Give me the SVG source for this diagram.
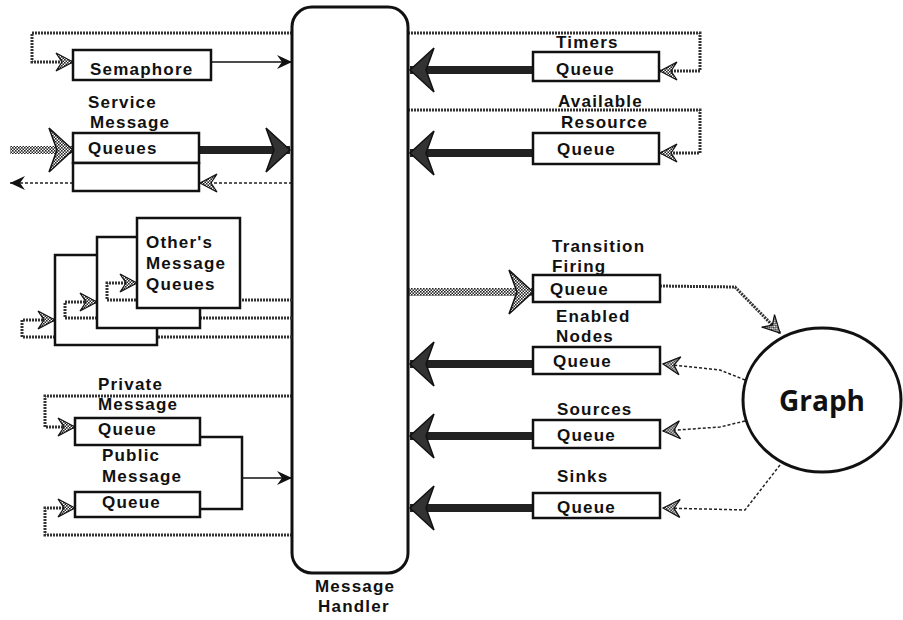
<svg xmlns="http://www.w3.org/2000/svg" width="903" height="620" viewBox="0 0 903 620">
<defs>
<pattern id="chk" width="3" height="3" patternUnits="userSpaceOnUse">
<rect width="3" height="3" fill="#fff"/><rect width="1.6" height="1.6" fill="#222"/><rect x="1.5" y="1.5" width="1.6" height="1.6" fill="#222"/>
</pattern>
<marker id="big" markerUnits="userSpaceOnUse" markerWidth="30" markerHeight="50" viewBox="-27 -25 30 50" refX="0" refY="0" orient="auto">
<path d="M0,0 L-24,-22 L-16,0 L-24,22 Z" fill="#333" stroke="#111" stroke-width="1.5"/>
</marker>
<marker id="bigh" markerUnits="userSpaceOnUse" markerWidth="30" markerHeight="50" viewBox="-27 -25 30 50" refX="0" refY="0" orient="auto">
<path d="M0,0 L-24,-22 L-16,0 L-24,22 Z" fill="url(#chk)" stroke="#111" stroke-width="1.5"/>
</marker>
<marker id="hat" markerUnits="userSpaceOnUse" markerWidth="22" markerHeight="24" viewBox="-20 -12 22 24" refX="0" refY="0" orient="auto">
<path d="M0,0 L-17,-9 L-11,0 L-17,9 Z" fill="url(#chk)" stroke="#111" stroke-width="1.2"/>
</marker>
<marker id="thin" markerUnits="userSpaceOnUse" markerWidth="20" markerHeight="20" viewBox="-18 -10 20 20" refX="0" refY="0" orient="auto">
<path d="M0,0 L-15,-7 L-10,0 L-15,7 Z" fill="#111"/>
</marker>
</defs>
<style>
.box{fill:#fff;stroke:#111;stroke-width:2.5}
.t{font-family:"Liberation Sans",Arial,sans-serif;font-weight:700;font-size:17px;letter-spacing:1.2px;fill:#111}
.hl{fill:none;stroke:#333;stroke-width:3;stroke-dasharray:2 1}
.dl{fill:none;stroke:#222;stroke-width:1.5;stroke-dasharray:3 2}
.sl{fill:none;stroke:#111;stroke-width:1.5}
.bk{fill:none;stroke:#111;stroke-width:2.5}
.th{fill:none;stroke:#222;stroke-width:8}
.thh{fill:none;stroke:url(#chk);stroke-width:8}
</style>

<g id="connectors">
<path class="hl" d="M292,33 H32 V62 H73" marker-end="url(#hat)"/>
<path class="sl" d="M212,62 H292" marker-end="url(#thin)"/>
<path class="thh" d="M10,150 H73" marker-end="url(#bigh)"/>
<path class="th" d="M199,150 H290" marker-end="url(#big)"/>
<path class="dl" d="M292,183 H200" marker-end="url(#hat)"/>
<path class="dl" d="M73,183 H10" marker-end="url(#thin)"/>
<path class="hl" d="M292,396 H45 V427 H75" marker-end="url(#hat)"/>
<path class="hl" d="M292,535 H45 V508 H75" marker-end="url(#hat)"/>
<path class="bk" d="M200,437 H242 V509 H200"/>
<path class="sl" d="M242,478 H292" marker-end="url(#thin)"/>
<path class="hl" d="M408,33 H700 V71 H660" marker-end="url(#hat)"/>
<path class="th" d="M533,70 H410" marker-end="url(#big)"/>
<path class="hl" d="M408,110 H700 V153 H660" marker-end="url(#hat)"/>
<path class="th" d="M533,153 H410" marker-end="url(#big)"/>
<path class="thh" d="M408,292 H533" marker-end="url(#bigh)"/>
<path class="hl" d="M660,286 L735,287 L780,333" marker-end="url(#hat)"/>
<path class="th" d="M533,364 H410" marker-end="url(#big)"/>
<path class="dl" d="M745,380 L720,370 L663,364" marker-end="url(#hat)"/>
<path class="th" d="M533,436 H410" marker-end="url(#big)"/>
<path class="dl" d="M745,421 L720,427 L663,431" marker-end="url(#hat)"/>
<path class="th" d="M533,508 H410" marker-end="url(#big)"/>
<path class="dl" d="M780,465 L745,510 L663,508" marker-end="url(#hat)"/>
</g>

<g id="handler">
<rect x="292" y="7" width="116" height="566" rx="20" fill="#fff" stroke="#111" stroke-width="3"/>
<text class="t" x="315" y="592">Message</text>
<text class="t" x="318" y="612">Handler</text>
</g>

<g id="semaphore">
<rect class="box" x="73" y="50" width="138" height="30"/>
<text class="t" x="90" y="75">Semaphore</text>
</g>

<g id="service">
<text class="t" x="88" y="108">Service</text>
<text class="t" x="90" y="128">Message</text>
<rect class="box" x="73" y="133" width="126" height="30"/>
<rect class="box" x="73" y="163" width="126" height="28"/>
<text class="t" x="88" y="154">Queues</text>
</g>

<g id="others">
<path class="hl" d="M292,337 H22 V320 H55" marker-end="url(#hat)"/>
<rect class="box" x="55" y="255" width="102" height="90"/>
<path class="hl" d="M292,318 H65 V302 H97" marker-end="url(#hat)"/>
<rect class="box" x="97" y="237" width="103" height="91"/>
<path class="hl" d="M292,300 H107 V283 H137" marker-end="url(#hat)"/>
<rect class="box" x="137" y="218" width="103" height="90"/>
<text class="t" x="146" y="248">Other's</text>
<text class="t" x="146" y="269">Message</text>
<text class="t" x="146" y="290">Queues</text>
</g>

<g id="private">
<text class="t" x="98" y="390">Private</text>
<text class="t" x="98" y="410">Message</text>
<rect class="box" x="75" y="418" width="125" height="27"/>
<text class="t" x="98" y="435">Queue</text>
</g>

<g id="public">
<text class="t" x="102" y="461">Public</text>
<text class="t" x="102" y="482">Message</text>
<rect class="box" x="75" y="492" width="125" height="25"/>
<text class="t" x="102" y="508">Queue</text>
</g>

<g id="timers">
<text class="t" x="556" y="48">Timers</text>
<rect class="box" x="533" y="52" width="126" height="29"/>
<text class="t" x="556" y="75">Queue</text>
</g>

<g id="available">
<text class="t" x="558" y="107">Available</text>
<text class="t" x="561" y="128">Resource</text>
<rect class="box" x="533" y="133" width="126" height="31"/>
<text class="t" x="557" y="155">Queue</text>
</g>

<g id="transition">
<text class="t" x="552" y="252">Transition</text>
<text class="t" x="552" y="272">Firing</text>
<rect class="box" x="533" y="275" width="127" height="27"/>
<text class="t" x="550" y="295">Queue</text>
</g>

<g id="enabled">
<text class="t" x="556" y="322">Enabled</text>
<text class="t" x="556" y="342">Nodes</text>
<rect class="box" x="533" y="347" width="127" height="27"/>
<text class="t" x="553" y="367">Queue</text>
</g>

<g id="sources">
<text class="t" x="557" y="415">Sources</text>
<rect class="box" x="533" y="420" width="127" height="28"/>
<text class="t" x="557" y="441">Queue</text>
</g>

<g id="sinks">
<text class="t" x="557" y="482">Sinks</text>
<rect class="box" x="533" y="493" width="127" height="25"/>
<text class="t" x="557" y="513">Queue</text>
</g>

<g id="graph">
<ellipse cx="822" cy="400" rx="79" ry="72" fill="#fff" stroke="#111" stroke-width="3"/>
<text x="822" y="411" text-anchor="middle" style="font-family:'Open Sans','DejaVu Sans',sans-serif;font-weight:700;font-size:28px;fill:#111">Graph</text>
</g>
</svg>
